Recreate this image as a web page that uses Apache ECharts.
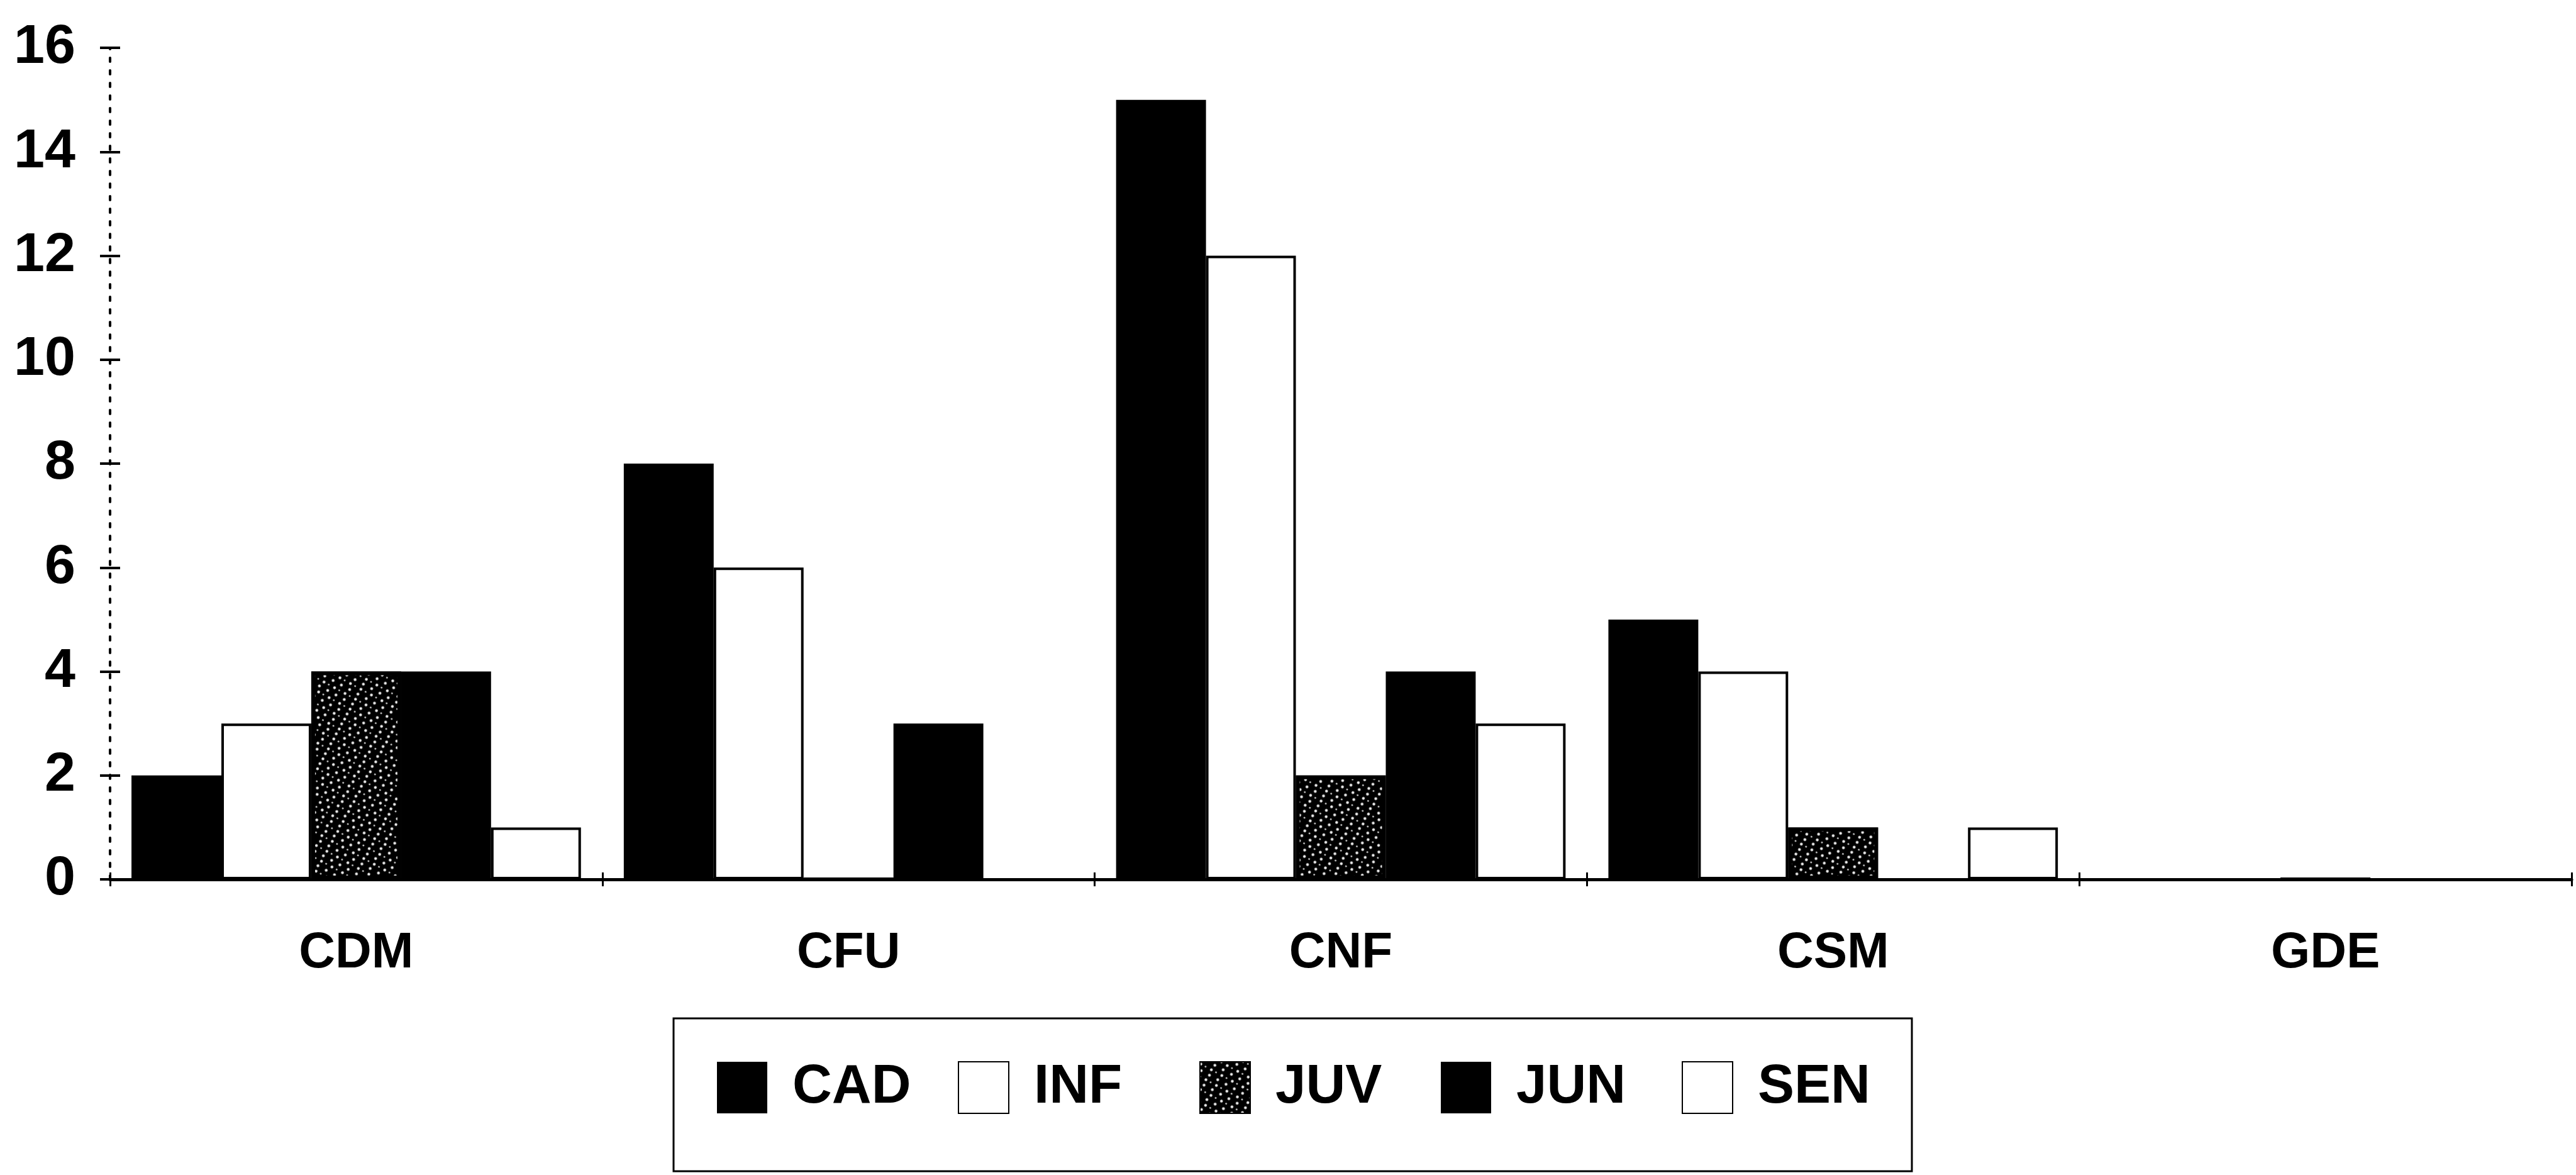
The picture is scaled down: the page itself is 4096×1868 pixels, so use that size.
<!DOCTYPE html>
<html>
<head>
<meta charset="utf-8">
<script src="https://cdn.jsdelivr.net/npm/echarts@6/dist/echarts.min.js"></script>
<style>
  html, body { margin: 0; padding: 0; background: #fff; }
  #chart { width: 4096px; height: 1868px; }
</style>
</head>
<body>
<div id="chart"></div>
<script>
// Categories along the x axis
const categories = ['CDM', 'CFU', 'CNF', 'CSM', 'GDE'];

// Counts per group
const cad = [2, 8, 15, 5, 0];
const inf = [3, 6, 12, 4, 0];
const juv = [4, 0, 2, 1, 0];
const jun = [4, 3, 4, 0, 0];
const sen = [1, 0, 3, 1, 0];

// Value axis ticks
const yMin = 0;
const yMax = 16;
const yStep = 2;

const labelFont = '"Liberation Sans", Arial, sans-serif';

const solidBlack = { color: '#000', borderColor: '#000', borderWidth: 0 };
const hollow = { color: '#fff', borderColor: '#000', borderWidth: 4 };
const speckled = {
  color: '#000',
  borderColor: '#000',
  borderWidth: 6,
  decal: {
    symbol: 'circle',
    symbolSize: 0.9,
    color: 'rgba(255,255,255,0.92)',
    dashArrayX: [[0, 5, 7, 3], [6, 4, 3, 6]],
    dashArrayY: [5, 4],
    rotation: 0.5
  }
};

function barSeries(name, values, style) {
  return {
    name: name,
    type: 'bar',
    data: values,
    xAxisIndex: 0,
    yAxisIndex: 0,
    barGap: '0%',
    barCategoryGap: '8.7%',
    itemStyle: style,
    emphasis: { disabled: true }
  };
}

const chart = echarts.init(document.getElementById('chart'), null, { renderer: 'canvas' });

chart.setOption({
  animation: false,
  backgroundColor: '#fff',
  grid: { left: 175, right: 7, top: 76, bottom: 470, containLabel: false },
  legend: {
    left: 1071,
    top: 1619,
    orient: 'horizontal',
    padding: [60, 45, 83, 69],
    borderColor: '#000',
    borderWidth: 3,
    itemWidth: 80,
    itemHeight: 82,
    itemGap: 63,
    icon: 'rect',
    selectedMode: false,
    textStyle: {
      color: '#000',
      fontFamily: labelFont,
      fontWeight: 'bold',
      fontSize: 87,
      lineHeight: 100,
      width: 200,
      padding: [0, 0, 0, 35]
    },
    data: ['CAD', 'INF', 'JUV', 'JUN', 'SEN']
  },
  xAxis: [
    {
      type: 'category',
      data: categories,
      position: 'bottom',
      axisLine: { show: true, lineStyle: { color: '#000', width: 5 } },
      axisTick: { show: true, length: 11, lineStyle: { color: '#000', width: 3 } },
      axisLabel: {
        color: '#000',
        fontFamily: labelFont,
        fontWeight: 'bold',
        fontSize: 80,
        lineHeight: 95,
        margin: 70
      },
      splitLine: { show: false }
    },
    {
      type: 'category',
      data: categories,
      position: 'bottom',
      axisLine: { show: false },
      axisTick: { show: true, inside: true, length: 11, lineStyle: { color: '#000', width: 3 } },
      axisLabel: { show: false },
      splitLine: { show: false }
    }
  ],
  yAxis: [
    {
      type: 'value',
      min: yMin,
      max: yMax,
      interval: yStep,
      position: 'left',
      axisLine: { show: true, lineStyle: { color: '#000', width: 4, type: [6, 14] } },
      axisTick: { show: true, length: 16, lineStyle: { color: '#000', width: 4 } },
      axisLabel: {
        color: '#000',
        fontFamily: labelFont,
        fontWeight: 'bold',
        fontSize: 88,
        margin: 55
      },
      splitLine: { show: false }
    },
    {
      type: 'value',
      min: yMin,
      max: yMax,
      interval: yStep,
      position: 'left',
      axisLine: { show: false },
      axisTick: { show: true, inside: true, length: 16, lineStyle: { color: '#000', width: 4 } },
      axisLabel: { show: false },
      splitLine: { show: false }
    }
  ],
  series: [
    barSeries('CAD', cad, solidBlack),
    barSeries('INF', inf, hollow),
    barSeries('JUV', juv, speckled),
    barSeries('JUN', jun, solidBlack),
    barSeries('SEN', sen, hollow)
  ]
});
</script>
</body>
</html>
